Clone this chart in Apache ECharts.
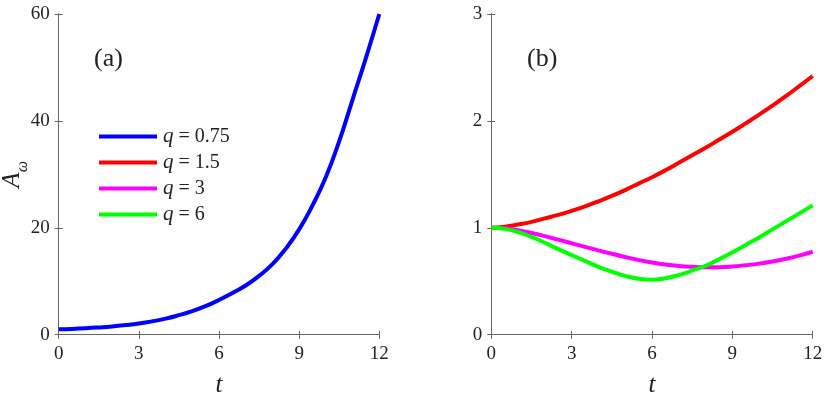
<!DOCTYPE html>
<html>
<head>
<meta charset="utf-8">
<script src="https://cdn.jsdelivr.net/npm/echarts@6/dist/echarts.min.js"></script>
<style>
  html, body { margin: 0; padding: 0; background: #fff; }
  #chart { width: 830px; height: 393px; }
</style>
</head>
<body>
<div id="chart"></div>
<script>
// time samples shared by all curves (step 0.5)
var tVals = [0, 0.5, 1, 1.5, 2, 2.5, 3, 3.5, 4, 4.5, 5, 5.5, 6,
             6.5, 7, 7.5, 8, 8.5, 9, 9.5, 10, 10.5, 11, 11.5, 12];

// panel (a)
var qA075 = [1, 1.08, 1.2, 1.36, 1.55, 1.8, 2.1, 2.5, 3.0, 3.65, 4.4, 5.35, 6.5,
             7.8, 9.2, 11.0, 13.2, 16.1, 19.7, 24.2, 29.5, 36.2, 44, 51.8, 60];
// panel (b)
var qB15 = [1, 1.01, 1.03, 1.055, 1.088, 1.121, 1.158, 1.201, 1.248, 1.298, 1.353, 1.413, 1.473,
            1.538, 1.608, 1.678, 1.748, 1.823, 1.898, 1.977, 2.058, 2.143, 2.232, 2.325, 2.42];
var qB3 = [1, 0.995, 0.978, 0.952, 0.922, 0.889, 0.855, 0.822, 0.789, 0.757, 0.727, 0.699, 0.675,
           0.656, 0.643, 0.635, 0.631, 0.632, 0.638, 0.65, 0.665, 0.685, 0.71, 0.74, 0.776];
var qB6 = [1, 0.99, 0.96, 0.915, 0.86, 0.80, 0.745, 0.69, 0.635, 0.59, 0.55, 0.523, 0.515,
           0.528, 0.558, 0.60, 0.645, 0.705, 0.77, 0.84, 0.91, 0.985, 1.06, 1.135, 1.21];

var xTicks = [0, 3, 6, 9, 12];
var leftTicks = [0, 20, 40, 60];
var rightTicks = [0, 1, 2, 3];

var legendNames = ["q = 0.75", "q = 1.5", "q = 3", "q = 6"];

function pairs(ys) {
  return tVals.map(function (t, i) { return [t, ys[i]]; });
}

var serif = "Liberation Serif";
var axisColor = "#666";

function xAxisFor(grid, pos) {
  var main = pos === "bottom";
  return {
    type: "value",
    gridIndex: grid,
    position: pos,
    min: xTicks[0],
    max: xTicks[xTicks.length - 1],
    interval: 3,
    name: main ? "t" : "",
    nameLocation: "middle",
    nameGap: 38,
    nameTextStyle: { fontFamily: serif, fontStyle: "italic", fontSize: 25, color: "#222" },
    axisLine: { show: true, lineStyle: { color: axisColor, width: 1 } },
    axisTick: { show: true, inside: true, length: 4, lineStyle: { color: axisColor } },
    axisLabel: { show: main, margin: 10, fontFamily: serif, fontSize: 19, color: "#222" },
    splitLine: { show: false }
  };
}

function yAxisFor(grid, pos, ticks, name) {
  var main = pos === "left";
  return {
    type: "value",
    gridIndex: grid,
    position: pos,
    min: ticks[0],
    max: ticks[ticks.length - 1],
    interval: ticks[1] - ticks[0],
    name: main ? name : "",
    nameLocation: "middle",
    nameGap: 34,
    nameRotate: 90,
    nameMoveOverlap: false,
    nameTextStyle: {
      rich: {
        a: { fontFamily: serif, fontStyle: "italic", fontSize: 25, color: "#222", verticalAlign: "bottom", lineHeight: 26 },
        s: { fontFamily: serif, fontStyle: "italic", fontSize: 16, color: "#222", verticalAlign: "bottom", lineHeight: 26, padding: [0, 0, -6, 0] }
      }
    },
    axisLine: { show: true, lineStyle: { color: axisColor, width: 1 } },
    axisTick: { show: true, inside: true, length: 4, lineStyle: { color: axisColor } },
    axisLabel: { show: main, margin: 9, fontFamily: serif, fontSize: 19, color: "#222" },
    splitLine: { show: false }
  };
}

function lineSeries(name, xi, yi, ys, color) {
  return {
    name: name,
    type: "line",
    xAxisIndex: xi,
    yAxisIndex: yi,
    data: pairs(ys),
    smooth: true,
    showSymbol: false,
    lineStyle: { color: color, width: 4 },
    itemStyle: { color: color }
  };
}

var chart = echarts.init(document.getElementById("chart"));
chart.setOption({
  animation: false,
  grid: [
    { left: 58.7, top: 14, width: 320.6, height: 320.7, outerBoundsMode: "none" },
    { left: 491.3, top: 14, width: 321.4, height: 320.7, outerBoundsMode: "none" }
  ],
  xAxis: [
    xAxisFor(0, "bottom"), xAxisFor(0, "top"),
    xAxisFor(1, "bottom"), xAxisFor(1, "top")
  ],
  yAxis: [
    yAxisFor(0, "left", leftTicks, "{a|A}{s|ω}"), yAxisFor(0, "right", leftTicks, ""),
    yAxisFor(1, "left", rightTicks, ""), yAxisFor(1, "right", rightTicks, "")
  ],
  legend: {
    left: 94,
    top: 121,
    orient: "vertical",
    icon: "rect",
    itemWidth: 58,
    itemHeight: 4,
    itemGap: 5,
    data: legendNames,
    formatter: function (n) {
      return "{i|q} = " + n.split("= ")[1];
    },
    textStyle: {
      fontFamily: serif,
      fontSize: 20,
      color: "#222",
      lineHeight: 20,
      padding: [0, 0, 0, 1],
      rich: { i: { fontFamily: serif, fontStyle: "italic", fontSize: 21, color: "#222" } }
    }
  },
  graphic: [
    { type: "text", left: 94, top: 46, style: { text: "(a)", font: "26px " + serif, fill: "#222" } },
    { type: "text", left: 527, top: 46, style: { text: "(b)", font: "26px " + serif, fill: "#222" } }
  ],
  series: [
    lineSeries(legendNames[0], 0, 0, qA075, "#0000ff"),
    lineSeries(legendNames[1], 2, 2, qB15, "#ff0000"),
    lineSeries(legendNames[2], 2, 2, qB3, "#ff00ff"),
    lineSeries(legendNames[3], 2, 2, qB6, "#00ff00")
  ]
});
</script>
</body>
</html>
